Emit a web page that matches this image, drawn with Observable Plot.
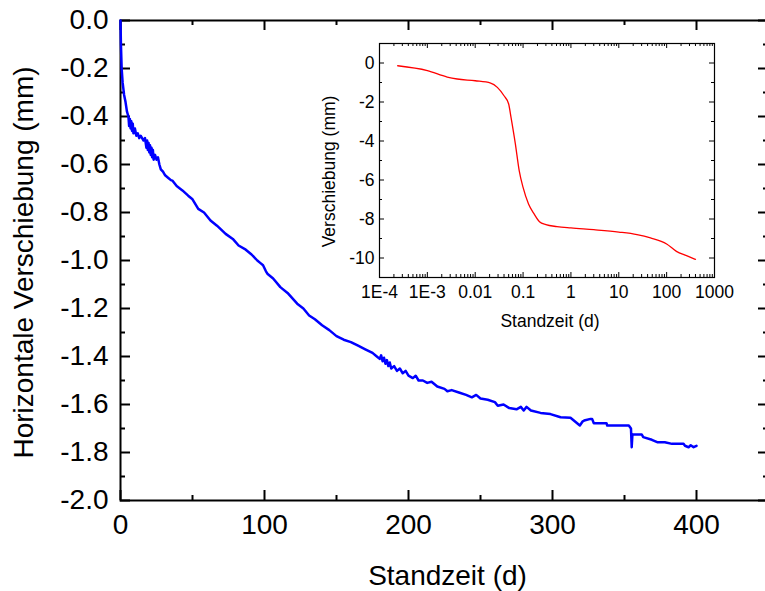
<!DOCTYPE html>
<html>
<head>
<meta charset="utf-8">
<script src="https://cdn.jsdelivr.net/npm/d3@7"></script>
<script src="https://cdn.jsdelivr.net/npm/@observablehq/plot@0.6"></script>
<style>
  body { margin: 0; background: white; }
  #wrap { position: relative; width: 765px; height: 591px; overflow: hidden; }
  #inset { position: absolute; left: 300px; top: 30px; }
</style>
</head>
<body>
<div id="wrap"><div id="main"></div><div id="inset"></div></div>
<script>
// ---- Main chart data: Standzeit (d) vs horizontale Verschiebung (mm)
const mainT = [0,0.3,0.8,1.5,2.5,3.5,4.5,5.5,6,6.5,7,7.5,8,8.5,9,10,11,12,13,14,15,16,17,18,18.5,19,19.5,20,20.5,21,21.5,22,22.5,23,24,25,26,27,28,29.5,31,33,35,36,39,43,47,50,54,58,62.5,67,73,78,82,87,91,95,97,99,101,102,106,111,116,122.7,127,131,135,140,145,150,155,160,165,170,175,178,180,181,182,183,184,185,186,187,188,190,192,194,196,198,200,203,205,207,210,213,216,220,225,227,230,235,240,244,247,250,255,260,262,266,270,275,278,280,282,285,291.7,298.6,305.6,312.5,319,321,322,326.4,327.5,328.7,337.5,338,353,354.5,355,355.5,362,363,369,372.7,378,383,388,391,392,394.5,396,398,400];
const mainV = [0,-0.1,-0.2,-0.26,-0.31,-0.34,-0.38,-0.40,-0.44,-0.41,-0.45,-0.42,-0.46,-0.43,-0.47,-0.45,-0.48,-0.47,-0.49,-0.48,-0.49,-0.50,-0.49,-0.53,-0.50,-0.54,-0.51,-0.55,-0.52,-0.56,-0.53,-0.57,-0.54,-0.58,-0.56,-0.58,-0.57,-0.60,-0.62,-0.63,-0.645,-0.655,-0.665,-0.667,-0.69,-0.708,-0.73,-0.745,-0.785,-0.80,-0.833,-0.855,-0.889,-0.91,-0.9375,-0.955,-0.975,-1.0,-1.01,-1.02,-1.045,-1.055,-1.075,-1.111,-1.135,-1.18,-1.20,-1.229,-1.245,-1.27,-1.29,-1.315,-1.33,-1.34,-1.355,-1.37,-1.385,-1.40,-1.41,-1.395,-1.42,-1.405,-1.43,-1.415,-1.44,-1.425,-1.45,-1.44,-1.46,-1.45,-1.47,-1.46,-1.48,-1.49,-1.48,-1.50,-1.50,-1.51,-1.505,-1.525,-1.535,-1.545,-1.54,-1.55,-1.56,-1.57,-1.56,-1.575,-1.58,-1.59,-1.605,-1.60,-1.615,-1.62,-1.61,-1.625,-1.61,-1.625,-1.635,-1.64,-1.653,-1.655,-1.6875,-1.67,-1.667,-1.66,-1.66,-1.678,-1.678,-1.6875,-1.6875,-1.70,-1.778,-1.725,-1.725,-1.736,-1.747,-1.757,-1.757,-1.764,-1.764,-1.764,-1.772,-1.778,-1.770,-1.778,-1.772,-1.778];

// ---- Inset data: Standzeit (d, log) vs Verschiebung (mm)
const insetT = [2.4e-4,1e-3,2.6e-3,4.2e-3,0.01,0.021,0.029,0.04,0.05,0.056,0.069,0.083,0.1,0.13,0.17,0.22,0.3,0.51,1,3,10,24,46,100,160,260,400];
const insetV = [-0.14,-0.39,-0.72,-0.82,-0.91,-1.03,-1.25,-1.68,-2.1,-2.79,-4.15,-5.52,-6.38,-7.23,-7.74,-8.14,-8.29,-8.39,-8.46,-8.55,-8.67,-8.80,-8.97,-9.28,-9.66,-9.88,-10.07];

// ---- Tick values and labels
const mainXMajor = [0,100,200,300,400];
const mainXMinor = [50,150,250,350,450];
const mainYMajor = [0,-0.2,-0.4,-0.6,-0.8,-1.0,-1.2,-1.4,-1.6,-1.8,-2.0];
const mainYMinor = [-0.1,-0.3,-0.5,-0.7,-0.9,-1.1,-1.3,-1.5,-1.7,-1.9];
const insetXMajor = [1e-4,1e-3,1e-2,1e-1,1,10,100,1000];
const insetXLabels = ["1E-4","1E-3","0.01","0.1","1","10","100","1000"];
const insetYMajor = [0,-2,-4,-6,-8,-10];
const insetYMinor = [1,-1,-3,-5,-7,-9,-11];
const insetXMinor = [];
for (const d of insetXMajor.slice(0, -1)) for (let k = 2; k <= 9; k++) insetXMinor.push(d * k);
const insetXTickData = insetXMajor.map((x, i) => ({x, label: insetXLabels[i]}));

const mainData = mainT.map((t, i) => ({t, v: mainV[i]}));
const insetData = insetT.map((t, i) => ({t, v: insetV[i]}));

// ---- Main chart
const W = 765, H = 591, mL = 120, mT = 20, mB = 91, mR = -3;
const fh = H - mT - mB, fw = W - mL - mR;
const main = Plot.plot({
  width: W, height: H, marginLeft: mL, marginTop: mT, marginBottom: mB, marginRight: mR,
  x: {domain: [0, 450]},
  y: {domain: [-2, 0]},
  style: {fontFamily: "'Liberation Sans', Arial, sans-serif", fontSize: "28px", background: "white", color: "black"},
  marks: [
    Plot.frame({stroke: "black", strokeWidth: 2}),
    Plot.tickX(mainXMajor, {x: d => d, insetTop: fh - 10, strokeWidth: 2}),
    Plot.tickX(mainXMajor, {x: d => d, insetBottom: fh - 10, strokeWidth: 2}),
    Plot.tickX(mainXMinor, {x: d => d, insetTop: fh - 5, strokeWidth: 2}),
    Plot.tickX(mainXMinor, {x: d => d, insetBottom: fh - 5, strokeWidth: 2}),
    Plot.tickY(mainYMajor, {y: d => d, insetRight: fw - 10, strokeWidth: 2}),
    Plot.tickY(mainYMajor, {y: d => d, insetLeft: fw - 10, strokeWidth: 2}),
    Plot.tickY(mainYMinor, {y: d => d, insetRight: fw - 5, strokeWidth: 2}),
    Plot.tickY(mainYMinor, {y: d => d, insetLeft: fw - 5, strokeWidth: 2}),
    Plot.axisX(mainXMajor, {tickSize: 0, tickPadding: 14, tickFormat: d => String(d), label: null, fontSize: 28}),
    Plot.axisY(mainYMajor, {tickSize: 0, tickPadding: 12, tickFormat: d => d.toFixed(1), label: null, fontSize: 28}),
    Plot.text(["Standzeit (d)"], {frameAnchor: "bottom", dy: 76, dx: 3, fontSize: 28, lineAnchor: "middle", textAnchor: "middle", fill: "black"}),
    Plot.text(["Horizontale Verschiebung (mm)"], {frameAnchor: "left", rotate: -90, dx: -96, dy: 2, fontSize: 28, lineAnchor: "middle", textAnchor: "middle", fill: "black"}),
    Plot.line(mainData, {x: "t", y: "v", stroke: "#0000ff", strokeWidth: 2.5, strokeLinejoin: "round"})
  ]
});
document.getElementById("main").appendChild(main);

// ---- Inset chart
const IW = 440, IH = 310, iL = 79, iT = 13, iR = 26, iB = 63;
const ifh = IH - iT - iB, ifw = IW - iL - iR;
const inset = Plot.plot({
  width: IW, height: IH, marginLeft: iL, marginTop: iT, marginRight: iR, marginBottom: iB,
  x: {type: "log", domain: [1e-4, 1000], axis: null},
  y: {domain: [-11, 1]},
  style: {fontFamily: "'Liberation Sans', Arial, sans-serif", fontSize: "17.5px", background: "transparent", color: "black", overflow: "visible"},
  marks: [
    Plot.frame({stroke: "black", strokeWidth: 1.2, fill: "white"}),
    Plot.tickX(insetXMajor, {x: d => d, insetTop: ifh - 5}),
    Plot.tickX(insetXMajor, {x: d => d, insetBottom: ifh - 5}),
    Plot.tickX(insetXMinor, {x: d => d, insetTop: ifh - 3}),
    Plot.tickX(insetXMinor, {x: d => d, insetBottom: ifh - 3}),
    Plot.tickY(insetYMajor, {y: d => d, insetRight: ifw - 5}),
    Plot.tickY(insetYMajor, {y: d => d, insetLeft: ifw - 5}),
    Plot.tickY(insetYMinor, {y: d => d, insetRight: ifw - 3}),
    Plot.tickY(insetYMinor, {y: d => d, insetLeft: ifw - 3}),
    Plot.text(insetXTickData, {x: "x", text: "label", frameAnchor: "bottom", lineAnchor: "top", dy: 8, fontSize: 17.5, fill: "black"}),
    Plot.axisY(insetYMajor, {tickSize: 0, tickPadding: 5, tickFormat: d => String(d), label: null, fontSize: 17.5}),
    Plot.text(["Standzeit (d)"], {frameAnchor: "bottom", dy: 44, dx: 3, fontSize: 17.5, lineAnchor: "middle", textAnchor: "middle", fill: "black"}),
    Plot.text(["Verschiebung (mm)"], {frameAnchor: "left", rotate: -90, dx: -50, dy: 11, fontSize: 17.5, lineAnchor: "middle", textAnchor: "middle", fill: "black"}),
    Plot.line(insetData, {x: "t", y: "v", stroke: "#ff0000", strokeWidth: 1.3, curve: "monotone-x"})
  ]
});
document.getElementById("inset").appendChild(inset);
</script>
</body>
</html>
